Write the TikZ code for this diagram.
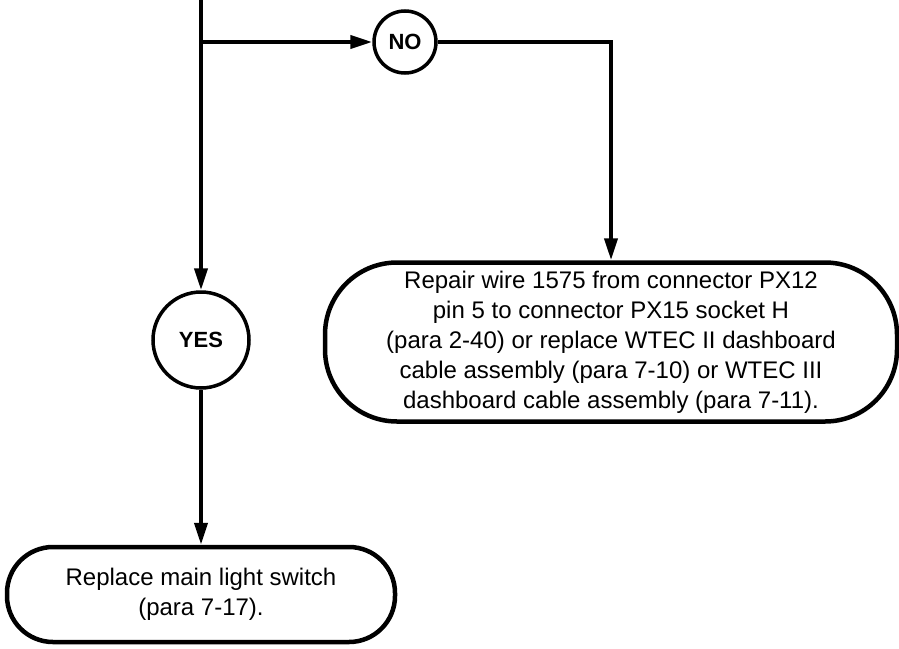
\documentclass[tikz,border=0pt]{standalone}
\usepackage{fontspec}
\setmainfont{Liberation Sans}
\usetikzlibrary{arrows.meta, positioning, calc}
\tikzset{
  answer/.style={circle, draw, line width=3.5pt, inner sep=0pt, font=\fontsize{22}{26}\selectfont\bfseries},
  action/.style={draw, line width=4.5pt, rounded corners=#1, align=center, inner sep=0pt, font=\fontsize{24}{30}\selectfont},
  flow/.style={-{Triangle[length=22pt, width=13pt]}, line width=4pt},
}
\begin{document}
\begin{tikzpicture}[x=1pt, y=-1pt]
  \useasboundingbox (0,0) rectangle (899,648);
  \node[answer, minimum size=62pt] (no) at (405,42) {NO};
  \node[answer, minimum size=96pt] (yes) at (201,340) {YES};
  \node[action=72pt, minimum width=572pt, minimum height=159pt] (repair) at (611,342)
    {Repair wire 1575 from connector PX12\\pin 5 to connector PX15 socket H\\(para 2-40) or replace WTEC II dashboard\\cable assembly (para 7-10) or WTEC III\\dashboard cable assembly (para 7-11).};
  \node[action=46pt, minimum width=388pt, minimum height=95pt] (replace) at (201,594.5)
    {Replace main light switch\\(para 7-17).};
  \coordinate (top) at (201,0);
  \coordinate (split) at (201,42);
  \draw[flow] (top) -- (yes);
  \draw[flow] (split) -- (no);
  \draw[flow] (no) -| (repair);
  \draw[flow] (yes) -- (replace);
\end{tikzpicture}
\end{document}
